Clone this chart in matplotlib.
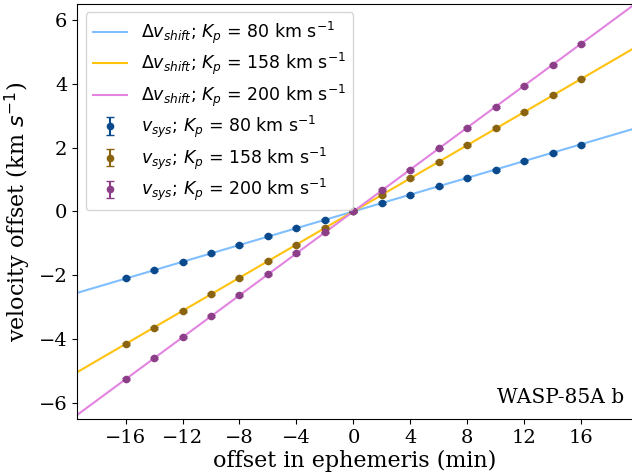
import matplotlib
matplotlib.use("Agg")
import matplotlib.pyplot as plt

# Data
offset_min = [-16, -14, -12, -10, -8, -6, -4, -2, 0, 2, 4, 6, 8, 10, 12, 14, 16]

vsys_80 = [-2.08, -1.83, -1.57, -1.31, -1.05, -0.78, -0.52, -0.26, 0.0,
           0.26, 0.52, 0.78, 1.05, 1.31, 1.57, 1.83, 2.08]
vsys_158 = [-4.16, -3.64, -3.12, -2.60, -2.08, -1.56, -1.04, -0.52, 0.0,
            0.52, 1.04, 1.56, 2.08, 2.60, 3.12, 3.64, 4.16]
vsys_200 = [-5.24, -4.59, -3.93, -3.28, -2.62, -1.97, -1.31, -0.66, 0.0,
            0.66, 1.31, 1.97, 2.62, 3.28, 3.93, 4.59, 5.24]
vsys_err = 0.03

shift_x = [-20, 20]
shift_80 = [-2.63, 2.63]
shift_158 = [-5.19, 5.19]
shift_200 = [-6.57, 6.57]

plt.rcParams['font.family'] = 'serif'

fig = plt.figure(figsize=(6.32, 4.74), dpi=100)
ax = fig.add_axes([0.122, 0.116, 0.879, 0.876])

ax.plot(shift_x, shift_80, color='#80bfff', lw=1.5,
        label=r'$\Delta v_{shift}$; $K_p$ = 80 km s$^{-1}$')
ax.plot(shift_x, shift_158, color='#ffc20e', lw=1.5,
        label=r'$\Delta v_{shift}$; $K_p$ = 158 km s$^{-1}$')
ax.plot(shift_x, shift_200, color='#e284e0', lw=1.5,
        label=r'$\Delta v_{shift}$; $K_p$ = 200 km s$^{-1}$')

ax.errorbar(offset_min, vsys_80, yerr=vsys_err, fmt='o', ms=4.5, capsize=3,
            color='#0a4a8c', label=r'$v_{sys}$; $K_p$ = 80 km s$^{-1}$')
ax.errorbar(offset_min, vsys_158, yerr=vsys_err, fmt='o', ms=4.5, capsize=3,
            color='#8a6410', label=r'$v_{sys}$; $K_p$ = 158 km s$^{-1}$')
ax.errorbar(offset_min, vsys_200, yerr=vsys_err, fmt='o', ms=4.5, capsize=3,
            color='#8c3e88', label=r'$v_{sys}$; $K_p$ = 200 km s$^{-1}$')

ax.set_xlim(-19.4, 19.6)
ax.set_ylim(-6.5, 6.5)
ax.set_xticks(range(-16, 17, 4))
ax.set_yticks(range(-6, 7, 2))
ax.tick_params(labelsize=14)

ax.set_xlabel('offset in ephemeris (min)', fontsize=16, labelpad=2)
ax.set_ylabel(r'velocity offset (km $s^{-1}$)', fontsize=16)
ax.text(0.985, 0.03, 'WASP-85A b', transform=ax.transAxes, ha='right',
        va='bottom', fontsize=14.5)

ax.legend(loc='upper left', prop={'family': 'DejaVu Sans', 'size': 12.5},
          labelspacing=0.3)

fig.savefig('out.png', dpi=100)
